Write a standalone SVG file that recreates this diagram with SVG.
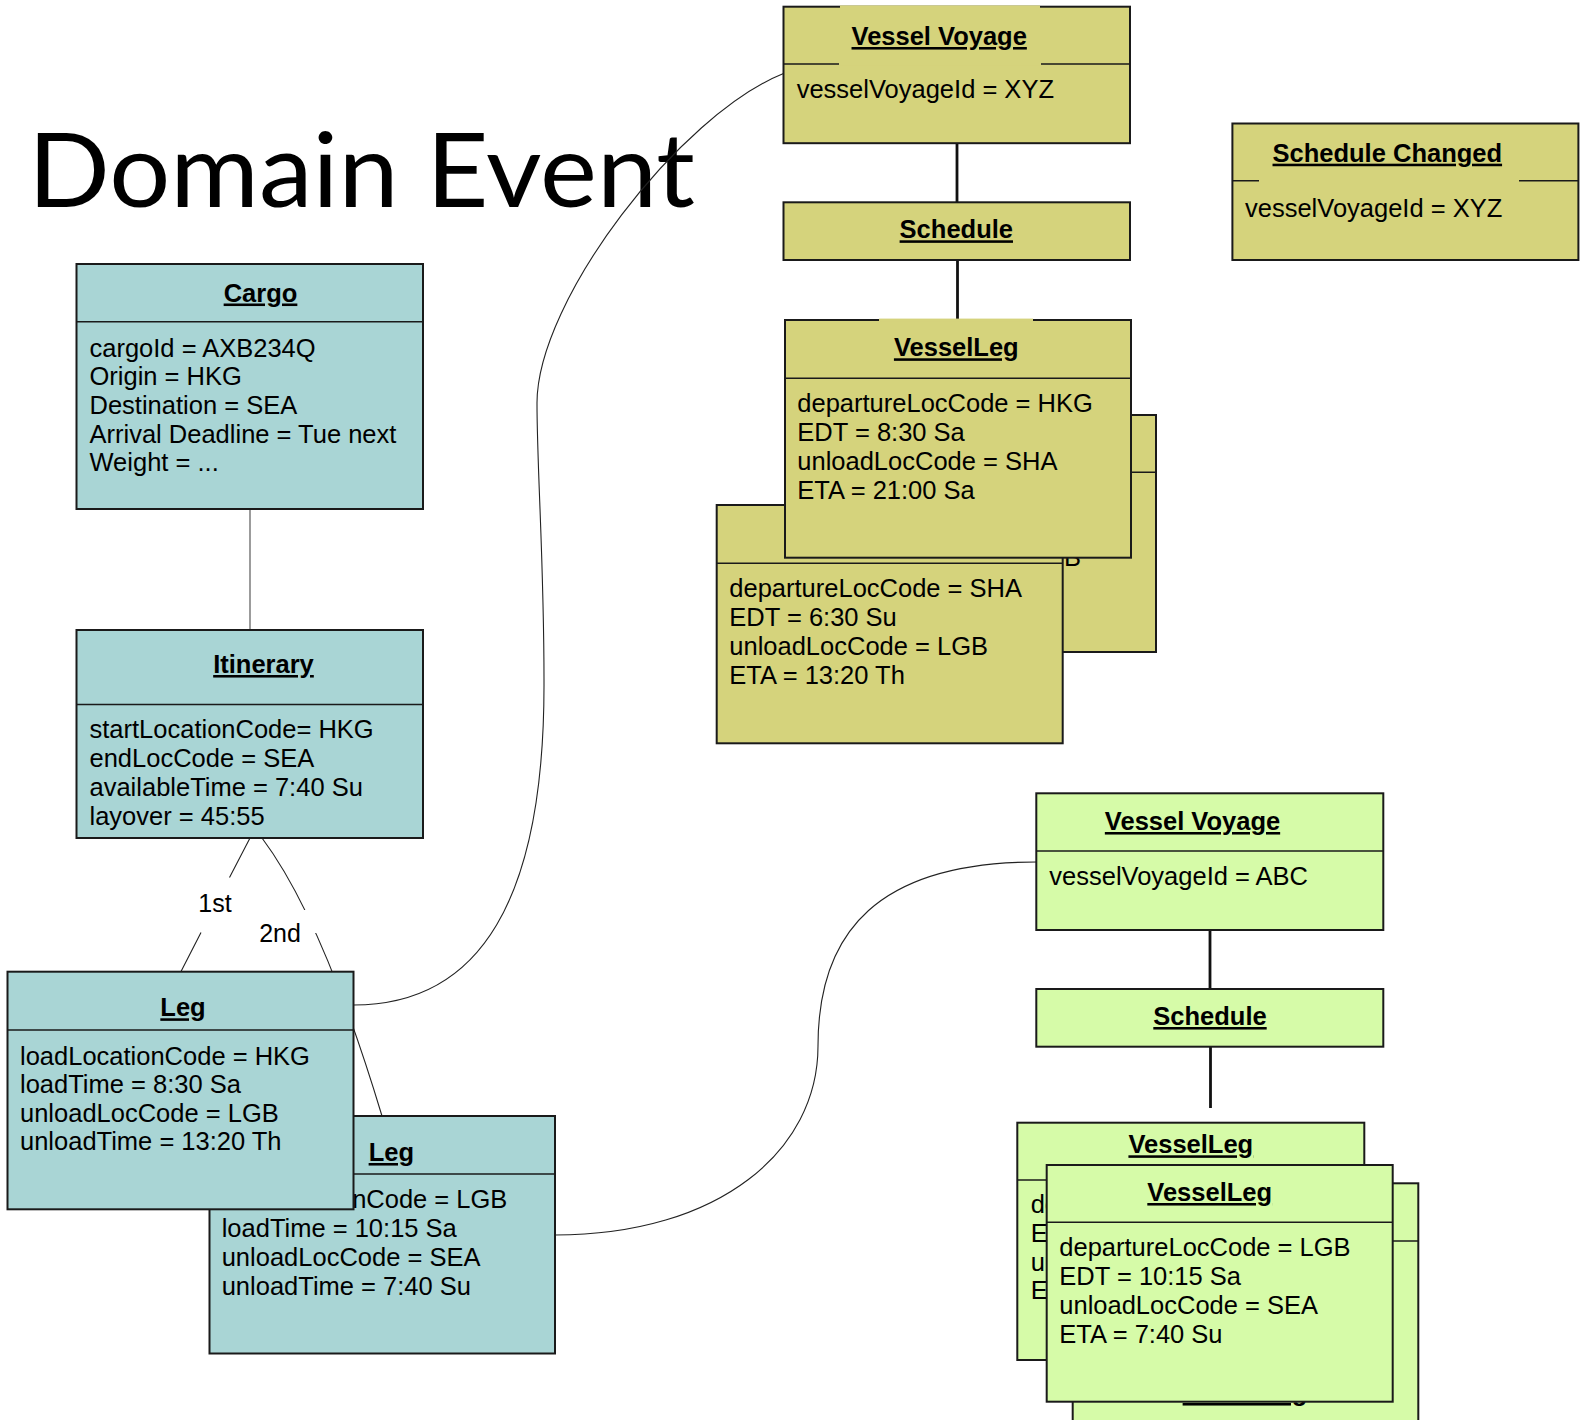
<svg xmlns="http://www.w3.org/2000/svg" width="1580" height="1420" viewBox="0 0 1580 1420">
<defs>
<style>
.t{font-family:"Liberation Sans",Arial,sans-serif;font-size:25.5px;fill:#000}
.h{font-family:"Liberation Sans",Arial,sans-serif;font-size:25.5px;font-weight:bold;text-anchor:middle;text-decoration:underline;fill:#000}
.lbl{font-family:"Liberation Sans",Arial,sans-serif;font-size:25px;text-anchor:middle;fill:#000}
.box{stroke:#1a1a1a;stroke-width:2}
.y{fill:#D5D37C}
.c{fill:#A9D5D5}
.g{fill:#D6FBA8}
.div{stroke:#1a1a1a;stroke-width:1.4;fill:none}
.thin{stroke:#222;stroke-width:1.1;fill:none}
.gray{stroke:#666;stroke-width:1.3;fill:none}
.thick{stroke:#111;stroke-width:2.8;fill:none}
</style>
<mask id="gap2">
<rect x="0" y="0" width="1580" height="1420" fill="#fff"/>
<rect x="297" y="910" width="28" height="23" fill="#000"/>
</mask>
</defs>
<rect x="0" y="0" width="1580" height="1420" fill="#fff"/>

<g id="title">
<text x="28" y="206.7" font-family="Lato,'Open Sans',sans-serif" font-size="102" textLength="667" lengthAdjust="spacingAndGlyphs">Domain Event</text>
</g>

<g id="connectors">
<line class="gray" x1="250" y1="509" x2="250" y2="630"/>
<path class="thin" d="M250,838 L229.5,877.5 M201,932.5 L181,971.5"/>
<path class="thin" mask="url(#gap2)" d="M262,838 C295,882 335,960 382,1116"/>
<path class="thin" d="M353.5,1005 C480,1005 545,900 544,680 C544,560 537,470 537,403 C537,300 680,115 783.5,73.5"/>
<path class="thin" d="M555,1235 C720,1235 818,1150 818,1046 C818,930 880,862 1036.5,862"/>
<line class="thick" x1="957" y1="143" x2="957" y2="202"/>
<line class="thick" x1="957.5" y1="260" x2="957.5" y2="320"/>
<line class="thick" x1="1210" y1="930" x2="1210" y2="989"/>
<line class="thick" x1="1210.5" y1="1047" x2="1210.5" y2="1108"/>
<text class="lbl" x="215" y="911.5">1st</text>
<text class="lbl" x="280" y="941.5">2nd</text>
</g>

<g id="cargo">
<rect class="box c" x="76.5" y="264" width="346.5" height="245"/>
<line class="div" x1="76.5" y1="321.8" x2="423" y2="321.8"/>
<text class="h" x="260.5" y="301.5">Cargo</text>
<text class="t" x="89.5" y="356.5">cargoId = AXB234Q</text>
<text class="t" x="89.5" y="385.2">Origin = HKG</text>
<text class="t" x="89.5" y="413.9">Destination = SEA</text>
<text class="t" x="89.5" y="442.6">Arrival Deadline = Tue next</text>
<text class="t" x="89.5" y="471.3">Weight = ...</text>
</g>

<g id="itinerary">
<rect class="box c" x="76.5" y="630" width="346.5" height="208"/>
<line class="div" x1="76.5" y1="704.5" x2="423" y2="704.5"/>
<text class="h" x="263.5" y="673">Itinerary</text>
<text class="t" x="89.5" y="738.2">startLocationCode= HKG</text>
<text class="t" x="89.5" y="767.2">endLocCode = SEA</text>
<text class="t" x="89.5" y="796">availableTime = 7:40 Su</text>
<text class="t" x="89.5" y="824.8">layover = 45:55</text>
</g>

<g id="leg-2">
<rect class="box c" x="209.5" y="1116" width="345.5" height="237.5"/>
<line class="div" x1="209.5" y1="1174" x2="555" y2="1174"/>
<text class="h" x="391.3" y="1161">Leg</text>
<text class="t" x="221.7" y="1208.3">loadLocationCode = LGB</text>
<text class="t" x="221.7" y="1237.3">loadTime = 10:15 Sa</text>
<text class="t" x="221.7" y="1266.2">unloadLocCode = SEA</text>
<text class="t" x="221.7" y="1295">unloadTime = 7:40 Su</text>
</g>

<g id="leg-1">
<rect class="box c" x="7.5" y="971.7" width="346" height="237.6"/>
<line class="div" x1="7.5" y1="1030" x2="353.5" y2="1030"/>
<text class="h" x="183" y="1016.3">Leg</text>
<text class="t" x="20" y="1065">loadLocationCode = HKG</text>
<text class="t" x="20" y="1093.3">loadTime = 8:30 Sa</text>
<text class="t" x="20" y="1121.7">unloadLocCode = LGB</text>
<text class="t" x="20" y="1150">unloadTime = 13:20 Th</text>
</g>

<g id="vessel-voyage-xyz">
<rect class="box y" x="783.5" y="6.7" width="346.5" height="136.5"/>
<rect class="y" x="840" y="5.4" width="200" height="60"/>
<path class="div" d="M783.5,64 H839 M1041,64 H1130"/>
<text class="h" x="939.2" y="45">Vessel Voyage</text>
<text class="t" x="796.7" y="98.3">vesselVoyageId = XYZ</text>
</g>

<g id="schedule-yellow">
<rect class="box y" x="783.5" y="202.3" width="346.5" height="57.7"/>
<text class="h" x="956.3" y="238.3">Schedule</text>
</g>

<g id="vesselleg-yellow-back">
<rect class="box y" x="810" y="415" width="346" height="237"/>
<line class="div" x1="810" y1="472.3" x2="1156" y2="472.3"/>
<text class="t" x="822.3" y="565.7">unloadLocCode = LGB</text>
</g>

<g id="vesselleg-yellow-sha">
<rect class="box y" x="716.7" y="505" width="346" height="238.3"/>
<line class="div" x1="716.7" y1="563.3" x2="1062.7" y2="563.3"/>
<text class="t" x="729.3" y="596.7">departureLocCode = SHA</text>
<text class="t" x="729.3" y="625.8">EDT = 6:30 Su</text>
<text class="t" x="729.3" y="654.9">unloadLocCode = LGB</text>
<text class="t" x="729.3" y="684">ETA = 13:20 Th</text>
</g>

<g id="vesselleg-yellow-hkg">
<rect class="box y" x="785" y="320" width="346" height="237.7"/>
<rect class="y" x="879" y="318.6" width="154" height="2.6"/>
<line class="div" x1="785" y1="378.3" x2="1131" y2="378.3"/>
<text class="h" x="956.3" y="356.3">VesselLeg</text>
<text class="t" x="797.3" y="411.7">departureLocCode = HKG</text>
<text class="t" x="797.3" y="440.9">EDT = 8:30 Sa</text>
<text class="t" x="797.3" y="470.1">unloadLocCode = SHA</text>
<text class="t" x="797.3" y="499.3">ETA = 21:00 Sa</text>
</g>

<g id="schedule-changed">
<rect class="box y" x="1232.4" y="123.5" width="346" height="136.5"/>
<path class="div" d="M1232.4,180.7 H1259 M1519,180.7 H1578.4"/>
<text class="h" x="1387.3" y="161.7">Schedule Changed</text>
<text class="t" x="1245" y="216.7">vesselVoyageId = XYZ</text>
</g>

<g id="vessel-voyage-abc">
<rect class="box g" x="1036.3" y="793.3" width="347" height="136.7"/>
<line class="div" x1="1036.3" y1="851" x2="1383.3" y2="851"/>
<text class="h" x="1192.5" y="830">Vessel Voyage</text>
<text class="t" x="1049.3" y="885">vesselVoyageId = ABC</text>
</g>

<g id="schedule-green">
<rect class="box g" x="1036.3" y="989" width="347" height="57.7"/>
<text class="h" x="1210" y="1025">Schedule</text>
</g>

<g id="vesselleg-green-c">
<rect class="box g" x="1072.7" y="1183.3" width="345.6" height="250"/>
<line class="div" x1="1072.7" y1="1241" x2="1418.3" y2="1241"/>
<text class="h" x="1245" y="1401">VesselLeg</text>
</g>

<g id="vesselleg-green-a">
<rect class="box g" x="1017.3" y="1122.7" width="347" height="237.3"/>
<line class="div" x1="1017.3" y1="1180" x2="1364.3" y2="1180"/>
<text class="h" x="1190.8" y="1153.3">VesselLeg</text>
<text class="t" x="1030.7" y="1213.3">de</text>
<text class="t" x="1030.7" y="1242">E</text>
<text class="t" x="1030.7" y="1270.7">u</text>
<text class="t" x="1030.7" y="1299.4">E</text>
</g>

<g id="vesselleg-green-b">
<rect class="box g" x="1046.7" y="1165" width="346" height="236.7"/>
<line class="div" x1="1046.7" y1="1222.3" x2="1392.7" y2="1222.3"/>
<text class="h" x="1209.7" y="1201">VesselLeg</text>
<text class="t" x="1059.3" y="1255.5">departureLocCode = LGB</text>
<text class="t" x="1059.3" y="1284.6">EDT = 10:15 Sa</text>
<text class="t" x="1059.3" y="1313.7">unloadLocCode = SEA</text>
<text class="t" x="1059.3" y="1342.7">ETA = 7:40 Su</text>
</g>
</svg>
